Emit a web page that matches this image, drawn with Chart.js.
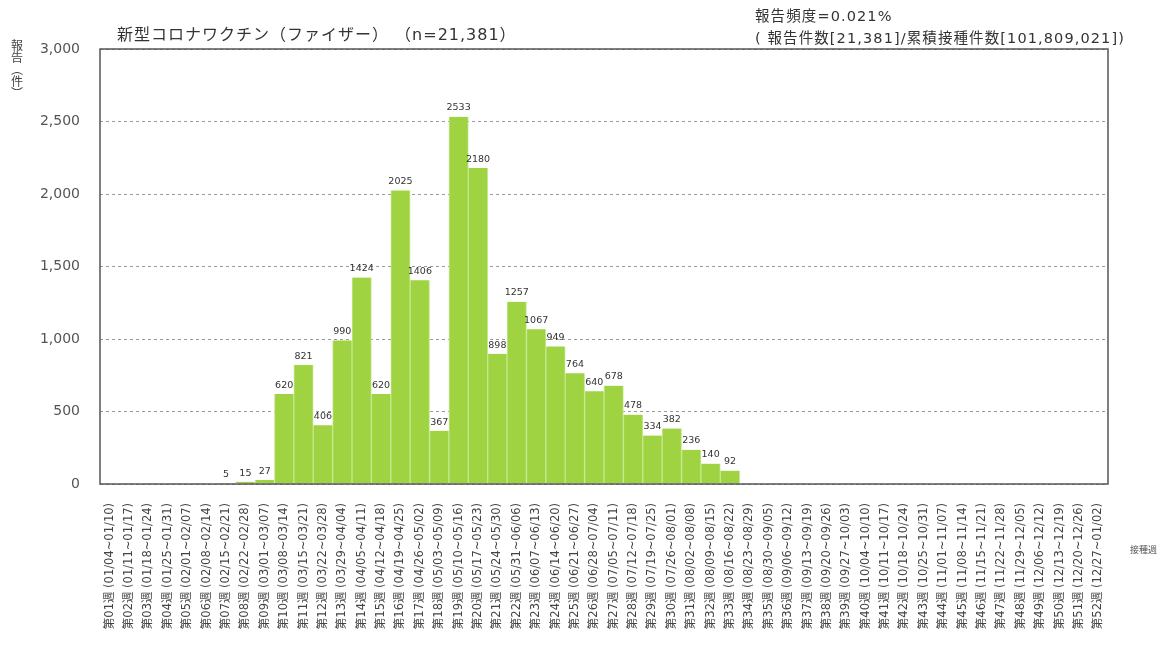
<!DOCTYPE html>
<html lang="ja">
<head>
<meta charset="utf-8">
<title>新型コロナワクチン（ファイザー）</title>
<script src="https://cdn.jsdelivr.net/npm/chart.js@4/dist/chart.umd.min.js"></script>
<style>
  html, body { margin: 0; padding: 0; background: #fff; }
  body { width: 1168px; height: 647px; position: relative; overflow: hidden;
         font-family: "DejaVu Sans", "Noto Sans CJK JP", sans-serif; color: #333; }
  #wrap { position: absolute; left: 0; top: 0; width: 1168px; height: 647px; }
  .txt { position: absolute; white-space: nowrap; }
  #title { left: 117px; top: 21px; font-size: 16px; letter-spacing: 1px; }
  #freq1 { left: 755px; top: 4px; font-size: 14.5px; letter-spacing: 1.1px; }
  #freq2 { left: 755px; top: 26px; font-size: 14.5px; letter-spacing: 1.1px; }
  #ytitle { left: 10px; top: 39px; font-size: 12px; color: #444; line-height: 12px;
            font-family: "Noto Sans CJK JP", sans-serif; text-align: center; width: 14px; }
  #ytitle span { display: block; }
  #xtitle { left: 1130px; top: 543px; font-size: 9px; color: #555; }
</style>
</head>
<body>
<div id="wrap"><canvas id="chart" width="1168" height="647"></canvas></div>
<div class="txt" id="title">新型コロナワクチン（ファイザー） （n=21,381）</div>
<div class="txt" id="freq1">報告頻度=0.021%</div>
<div class="txt" id="freq2">( 報告件数[21,381]/累積接種件数[101,809,021])</div>
<div class="txt" id="ytitle"><span>報</span><span>告</span><span>︵</span><span>件</span><span>︶</span></div>
<div class="txt" id="xtitle">接種週</div>
<script>
// 接種週（2021年）
const weekRanges = [
  '01/04~01/10', '01/11~01/17', '01/18~01/24', '01/25~01/31', '02/01~02/07',
  '02/08~02/14', '02/15~02/21', '02/22~02/28', '03/01~03/07', '03/08~03/14',
  '03/15~03/21', '03/22~03/28', '03/29~04/04', '04/05~04/11', '04/12~04/18',
  '04/19~04/25', '04/26~05/02', '05/03~05/09', '05/10~05/16', '05/17~05/23',
  '05/24~05/30', '05/31~06/06', '06/07~06/13', '06/14~06/20', '06/21~06/27',
  '06/28~07/04', '07/05~07/11', '07/12~07/18', '07/19~07/25', '07/26~08/01',
  '08/02~08/08', '08/09~08/15', '08/16~08/22', '08/23~08/29', '08/30~09/05',
  '09/06~09/12', '09/13~09/19', '09/20~09/26', '09/27~10/03', '10/04~10/10',
  '10/11~10/17', '10/18~10/24', '10/25~10/31', '11/01~11/07', '11/08~11/14',
  '11/15~11/21', '11/22~11/28', '11/29~12/05', '12/06~12/12', '12/13~12/19',
  '12/20~12/26', '12/27~01/02'
];

// 報告件数
const reports = [
  0, 0, 0, 0, 0, 0, 5, 15, 27, 620,
  821, 406, 990, 1424, 620, 2025, 1406, 367, 2533, 2180,
  898, 1257, 1067, 949, 764, 640, 678, 478, 334, 382,
  236, 140, 92, 0, 0, 0, 0, 0, 0, 0,
  0, 0, 0, 0, 0, 0, 0, 0, 0, 0,
  0, 0
];

const yTicks = [0, 500, 1000, 1500, 2000, 2500, 3000];

const labels = weekRanges.map((r, i) => `第${String(i + 1).padStart(2, '0')}週 (${r})`);

const FONT = '"DejaVu Sans", "Noto Sans CJK JP", sans-serif';

// 棒の上に数値
const valueLabels = {
  id: 'valueLabels',
  afterDatasetsDraw(chart) {
    const ctx = chart.ctx;
    const meta = chart.getDatasetMeta(0);
    ctx.save();
    ctx.font = '9.5px ' + FONT;
    ctx.fillStyle = '#333';
    ctx.textAlign = 'center';
    ctx.textBaseline = 'bottom';
    meta.data.forEach((bar, i) => {
      const v = reports[i];
      if (!v) return;
      ctx.fillText(String(v), bar.x, bar.y - 4);
    });
    ctx.restore();
  }
};

// 枠線
const frame = {
  id: 'frame',
  afterDatasetsDraw(chart) {
    const a = chart.chartArea;
    const ctx = chart.ctx;
    ctx.save();
    ctx.strokeStyle = '#555';
    ctx.lineWidth = 1.5;
    ctx.strokeRect(a.left, a.top, a.right - a.left, a.bottom - a.top);
    ctx.restore();
  }
};

new Chart(document.getElementById('chart'), {
  type: 'bar',
  data: {
    labels: labels,
    datasets: [{
      data: reports,
      backgroundColor: '#9fd342',
      borderColor: '#c6e790',
      borderWidth: { left: 1, right: 1, top: 0, bottom: 0 },
      borderSkipped: 'bottom',
      barPercentage: 1,
      categoryPercentage: 1
    }]
  },
  options: {
    responsive: false,
    animation: false,
    layout: { padding: { top: 49, right: 60, left: 0, bottom: 0 } },
    plugins: {
      legend: { display: false },
      tooltip: { enabled: false }
    },
    scales: {
      x: {
        grid: { display: false },
        border: { display: false },
        ticks: {
          autoSkip: false,
          minRotation: 90,
          maxRotation: 90,
          padding: 11,
          color: '#444',
          font: { family: FONT, size: 11.5 }
        },
        afterFit: s => { s.height = 163; }
      },
      y: {
        min: 0,
        max: 3000,
        afterBuildTicks: s => { s.ticks = yTicks.map(v => ({ value: v })); },
        grid: { color: '#9a9a9a', drawTicks: false, lineWidth: 1 },
        border: { display: false, dash: [3, 3] },
        ticks: {
          padding: 20,
          color: '#555',
          font: { family: FONT, size: 14 },
          callback: v => v.toLocaleString('en-US')
        },
        afterFit: s => { s.width = 100; }
      }
    }
  },
  plugins: [valueLabels, frame]
});
</script>
</body>
</html>
